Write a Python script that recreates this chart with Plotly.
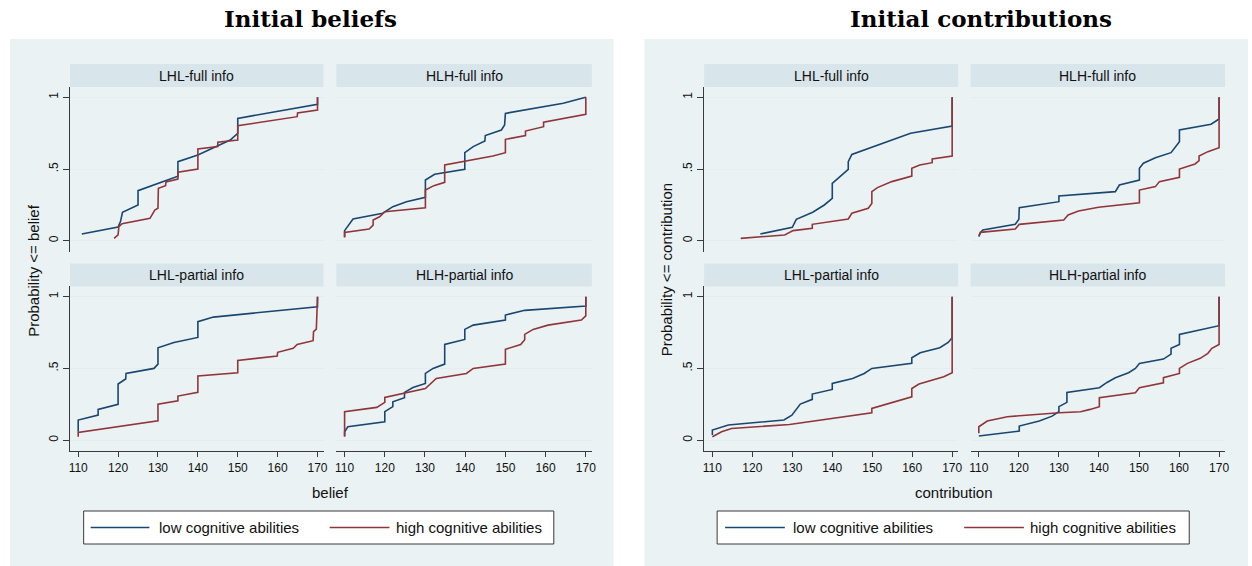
import plotly.graph_objects as go

# ---------------- data ----------------
x_ticks = [110, 120, 130, 140, 150, 160, 170]
y_ticks = [0, 0.5, 1]
y_tick_labels = ["0", ".5", "1"]
panel_titles = ["LHL-full info", "HLH-full info", "LHL-partial info", "HLH-partial info"]
series_names = ["low cognitive abilities", "high cognitive abilities"]

# Initial beliefs
bel_lhl_full_low_x = [110.9, 120, 120.6, 121.1, 125, 125, 135, 135, 140, 145.2, 148.1, 150, 150, 170, 170]
bel_lhl_full_low_y = [0.047, 0.095, 0.133, 0.198, 0.249, 0.349, 0.449, 0.551, 0.598, 0.667, 0.702, 0.749, 0.853, 0.951, 1.0]
bel_lhl_full_high_x = [119, 120, 120.2, 121, 128, 128.8, 129.2, 130, 130.1, 131.9, 132, 135, 135, 140, 140, 145, 145, 150, 150, 164.9, 165, 170, 170]
bel_lhl_full_high_y = [0.016, 0.04, 0.098, 0.119, 0.156, 0.195, 0.214, 0.226, 0.365, 0.384, 0.41, 0.43, 0.477, 0.5, 0.64, 0.656, 0.686, 0.702, 0.802, 0.865, 0.891, 0.912, 1.0]

bel_hlh_full_low_x = [110, 110, 112.1, 119.5, 122, 125.4, 130.1, 130.1, 132.4, 139.9, 139.9, 142, 144.9, 145, 149, 149.8, 150, 164.4, 170]
bel_hlh_full_low_y = [0.028, 0.07, 0.151, 0.191, 0.237, 0.272, 0.302, 0.423, 0.463, 0.498, 0.614, 0.656, 0.695, 0.733, 0.772, 0.807, 0.888, 0.958, 1.0]
bel_hlh_full_high_x = [110, 110, 116.1, 117.1, 117.1, 118.7, 120, 130.1, 130.1, 132.2, 134.9, 134.9, 146.9, 150, 150, 155, 155, 159.5, 159.5, 170, 170]
bel_hlh_full_high_y = [0.023, 0.058, 0.081, 0.109, 0.144, 0.167, 0.202, 0.23, 0.353, 0.384, 0.407, 0.528, 0.591, 0.614, 0.707, 0.733, 0.765, 0.795, 0.826, 0.881, 1.0]

bel_lhl_part_low_x = [110, 110, 115, 115, 120, 120, 121.9, 122, 129, 130, 130, 134, 140, 140, 143.9, 170, 170]
bel_lhl_part_low_y = [0.058, 0.14, 0.174, 0.214, 0.249, 0.391, 0.426, 0.465, 0.5, 0.53, 0.644, 0.681, 0.716, 0.826, 0.858, 0.93, 1.0]
bel_lhl_part_high_x = [110, 110, 130, 130, 135, 135, 140, 140, 150, 150, 159.9, 160, 163.9, 164.9, 168.9, 169, 169.7, 170]
bel_lhl_part_high_y = [0.023, 0.053, 0.135, 0.251, 0.274, 0.307, 0.333, 0.447, 0.47, 0.556, 0.586, 0.612, 0.64, 0.667, 0.693, 0.756, 0.774, 1.0]

bel_hlh_part_low_x = [110, 110, 110.8, 120, 120, 122, 122, 124.9, 124.9, 127, 130.1, 130.1, 132, 134.9, 134.9, 139.9, 139.9, 142, 150, 150, 154.8, 170, 170]
bel_hlh_part_low_y = [0.028, 0.058, 0.093, 0.128, 0.198, 0.233, 0.267, 0.295, 0.333, 0.367, 0.395, 0.465, 0.5, 0.53, 0.667, 0.702, 0.772, 0.802, 0.837, 0.872, 0.905, 0.935, 1.0]
bel_hlh_part_high_x = [110, 110, 118, 120, 120, 130.1, 132.8, 140.3, 142, 150, 150, 153.8, 154.8, 154.8, 156.9, 160.6, 168.9, 170, 170]
bel_hlh_part_high_y = [0.023, 0.198, 0.228, 0.263, 0.298, 0.36, 0.43, 0.465, 0.5, 0.53, 0.633, 0.667, 0.7, 0.737, 0.772, 0.802, 0.837, 0.867, 1.0]

# Initial contributions
con_lhl_full_low_x = [122, 130, 131, 135.1, 138, 140, 140, 144, 144, 144.9, 159.6, 170, 170]
con_lhl_full_low_y = [0.047, 0.093, 0.149, 0.198, 0.249, 0.295, 0.4, 0.498, 0.551, 0.602, 0.749, 0.8, 1.0]
con_lhl_full_high_x = [117.1, 128.1, 130.2, 135, 135, 144, 144.9, 149, 149.9, 149.9, 151.3, 154.9, 159.9, 159.9, 161.9, 165, 165, 170, 170]
con_lhl_full_high_y = [0.016, 0.04, 0.07, 0.086, 0.114, 0.151, 0.191, 0.226, 0.26, 0.342, 0.37, 0.412, 0.451, 0.505, 0.528, 0.544, 0.57, 0.591, 1.0]

con_hlh_full_low_x = [110, 110.4, 111, 119.1, 120, 120.1, 130, 130, 144.1, 145.1, 150.1, 150.1, 151.1, 154.1, 158, 160.1, 160.1, 168, 170, 170]
con_hlh_full_low_y = [0.028, 0.056, 0.074, 0.114, 0.149, 0.23, 0.272, 0.312, 0.342, 0.388, 0.423, 0.505, 0.54, 0.579, 0.614, 0.691, 0.772, 0.812, 0.849, 1.0]
con_hlh_full_high_x = [110, 110.4, 119.1, 120.1, 131.2, 132.3, 134.9, 139.9, 150.1, 150.1, 154.1, 155.1, 160.1, 160.1, 164, 165, 165, 167.2, 170, 170]
con_hlh_full_high_y = [0.035, 0.058, 0.081, 0.114, 0.144, 0.179, 0.207, 0.233, 0.265, 0.353, 0.377, 0.412, 0.442, 0.5, 0.535, 0.558, 0.591, 0.621, 0.649, 1.0]

con_lhl_part_low_x = [110, 110, 114, 127.9, 129.9, 132, 135, 135, 140, 140, 145.1, 148, 149.9, 159.9, 159.9, 162, 166.9, 169, 170, 170]
con_lhl_part_low_y = [0.035, 0.07, 0.105, 0.14, 0.174, 0.251, 0.284, 0.321, 0.353, 0.395, 0.43, 0.465, 0.5, 0.535, 0.574, 0.609, 0.644, 0.681, 0.714, 1.0]
con_lhl_part_high_x = [110, 112.3, 114.8, 129.3, 149.9, 149.9, 159.9, 159.9, 161.7, 167.9, 170, 170]
con_lhl_part_high_y = [0.023, 0.058, 0.081, 0.109, 0.191, 0.221, 0.302, 0.36, 0.391, 0.442, 0.47, 1.0]

con_hlh_part_low_x = [110, 120.1, 120.1, 125.1, 128.3, 130, 130, 132, 132, 140.1, 142, 144.1, 147.4, 149.1, 150.1, 156.1, 158, 158, 160.1, 160.1, 170, 170]
con_hlh_part_low_y = [0.028, 0.063, 0.098, 0.133, 0.167, 0.198, 0.233, 0.263, 0.333, 0.365, 0.402, 0.435, 0.47, 0.5, 0.535, 0.565, 0.6, 0.64, 0.667, 0.737, 0.798, 1.0]
con_hlh_part_high_x = [110, 110, 112.1, 117.1, 130.1, 135.4, 137.8, 140.1, 140.1, 149.1, 150.1, 156.1, 156.1, 160.1, 160.1, 162.1, 165.3, 167.2, 168.2, 170, 170]
con_hlh_part_high_y = [0.047, 0.093, 0.133, 0.163, 0.191, 0.198, 0.214, 0.233, 0.295, 0.33, 0.365, 0.4, 0.435, 0.465, 0.5, 0.535, 0.57, 0.605, 0.64, 0.667, 1.0]

# ---------------- style / layout ----------------
W, H = 1252, 566
NAVY = "#1a476f"
MAROON = "#90353b"
BG = "#eaf2f3"
STRIP = "#d8e5ea"
GRID = "#e4edf0"
AXC = "#3a3a3a"
SANS = "Liberation Sans, Arial, sans-serif"
SERIF = "DejaVu Serif, Liberation Serif, serif"

def fx(p):
    return p / W

def fy(p):
    return 1 - p / H

col_px = {("L", 0): (69.3, 323.8), ("L", 1): (336.7, 593.2),
          ("R", 0): (706.0, 961.0), ("R", 1): (973.5, 1229.0)}
row_px = {0: (87.0, 252.0), 1: (286.4, 451.4)}
HDR = 23.0
XR = [107.95, 171.5]
YR = [-0.079, 1.072]

panels = [
    ("L", 0, 0, bel_lhl_full_low_x, bel_lhl_full_low_y, bel_lhl_full_high_x, bel_lhl_full_high_y),
    ("L", 0, 1, bel_hlh_full_low_x, bel_hlh_full_low_y, bel_hlh_full_high_x, bel_hlh_full_high_y),
    ("L", 1, 0, bel_lhl_part_low_x, bel_lhl_part_low_y, bel_lhl_part_high_x, bel_lhl_part_high_y),
    ("L", 1, 1, bel_hlh_part_low_x, bel_hlh_part_low_y, bel_hlh_part_high_x, bel_hlh_part_high_y),
    ("R", 0, 0, con_lhl_full_low_x, con_lhl_full_low_y, con_lhl_full_high_x, con_lhl_full_high_y),
    ("R", 0, 1, con_hlh_full_low_x, con_hlh_full_low_y, con_hlh_full_high_x, con_hlh_full_high_y),
    ("R", 1, 0, con_lhl_part_low_x, con_lhl_part_low_y, con_lhl_part_high_x, con_lhl_part_high_y),
    ("R", 1, 1, con_hlh_part_low_x, con_hlh_part_low_y, con_hlh_part_high_x, con_hlh_part_high_y),
]

fig = go.Figure()
layout = {}
shapes = []
annotations = []

# light background panels for the two combined graphs
for x0, x1 in [(9, 615), (646, 1252)]:
    shapes.append(dict(type="rect", xref="paper", yref="paper", x0=fx(x0), x1=fx(x1),
                       y0=fy(566), y1=fy(39), fillcolor=BG, line=dict(width=0), layer="below"))

for i, (side, r, c, lx, ly, hx, hy) in enumerate(panels, start=1):
    xs = "" if i == 1 else str(i)
    x0, x1 = col_px[(side, c)]
    ytop, ybot = row_px[r]
    fig.add_trace(go.Scatter(x=lx, y=ly, mode="lines", line=dict(color=NAVY, width=1.6),
                             xaxis="x" + xs, yaxis="y" + xs, showlegend=False, hoverinfo="skip"))
    fig.add_trace(go.Scatter(x=hx, y=hy, mode="lines", line=dict(color=MAROON, width=1.6),
                             xaxis="x" + xs, yaxis="y" + xs, showlegend=False, hoverinfo="skip"))
    bottom = (r == 1)
    left = (c == 0)
    layout["xaxis" + xs] = dict(
        domain=[fx(x0), fx(x1)], range=XR, anchor="y" + xs, showgrid=False, zeroline=False,
        tickvals=x_ticks, ticktext=[str(v) for v in x_ticks],
        showticklabels=bottom, ticks="outside" if bottom else "", ticklen=5, tickcolor=AXC,
        showline=bottom, linecolor=AXC, linewidth=1,
        tickfont=dict(family=SANS, size=12, color="#111"))
    layout["yaxis" + xs] = dict(
        domain=[fy(ybot), fy(ytop)], range=YR, anchor="x" + xs, showgrid=True, gridcolor=GRID,
        gridwidth=1, zeroline=False, tickvals=y_ticks, ticktext=y_tick_labels,
        showticklabels=left, ticks="outside" if left else "", ticklen=6, tickcolor=AXC,
        showline=left, linecolor=AXC, linewidth=1, tickangle=-90,
        tickfont=dict(family=SANS, size=12, color="#111"))
    # strip header
    shapes.append(dict(type="rect", xref="paper", yref="paper", x0=fx(x0), x1=fx(x1),
                       y0=fy(ytop), y1=fy(ytop - HDR), fillcolor=STRIP, line=dict(width=0)))
    annotations.append(dict(xref="paper", yref="paper", x=fx((x0 + x1) / 2), y=fy(ytop - HDR / 2),
                            text=panel_titles[r * 2 + c], showarrow=False,
                            font=dict(family=SANS, size=14, color="#111"),
                            xanchor="center", yanchor="middle"))

# titles, axis titles
for cx, title in [(311, "Initial beliefs"), (984, "Initial contributions")]:
    annotations.append(dict(xref="paper", yref="paper", x=fx(cx), y=fy(18), text="<b>" + title + "</b>",
                            showarrow=False, font=dict(family=SERIF, size=23, color="#000"),
                            xanchor="center", yanchor="middle"))
for cx, t in [(331, "belief"), (957, "contribution")]:
    annotations.append(dict(xref="paper", yref="paper", x=fx(cx), y=fy(492), text=t, showarrow=False,
                            font=dict(family=SANS, size=15, color="#111"), xanchor="center", yanchor="middle"))
for cx, t in [(32, "Probability <= belief"), (668, "Probability <= contribution")]:
    annotations.append(dict(xref="paper", yref="paper", x=fx(cx), y=fy(270), text=t, showarrow=False,
                            textangle=-90, font=dict(family=SANS, size=15, color="#111"),
                            xanchor="center", yanchor="middle"))

# legends (drawn keys)
for bx0, bx1, items in [(83, 555, [(90, 149, 157), (330, 390, 395)]),
                        (719, 1193, [(727, 787, 793), (967, 1027, 1031)])]:
    shapes.append(dict(type="rect", xref="paper", yref="paper", x0=fx(bx0), x1=fx(bx1),
                       y0=fy(544), y1=fy(511), fillcolor="white", line=dict(color=AXC, width=1)))
    for (lx0, lx1, tx), name, col in zip(items, series_names, [NAVY, MAROON]):
        shapes.append(dict(type="line", xref="paper", yref="paper", x0=fx(lx0), x1=fx(lx1),
                           y0=fy(527.5), y1=fy(527.5), line=dict(color=col, width=1.6)))
        annotations.append(dict(xref="paper", yref="paper", x=fx(tx), y=fy(527.5), text=name,
                                showarrow=False, font=dict(family=SANS, size=15, color="#111"),
                                xanchor="left", yanchor="middle"))

fig.update_layout(width=W, height=H, margin=dict(l=0, r=0, t=0, b=0),
                  paper_bgcolor="white", plot_bgcolor="white", showlegend=False,
                  shapes=shapes, annotations=annotations, **layout)
fig.write_html("out.html", config={"displayModeBar": False, "staticPlot": True},
               post_script="document.body.style.margin='0px';document.body.style.overflow='hidden';")
